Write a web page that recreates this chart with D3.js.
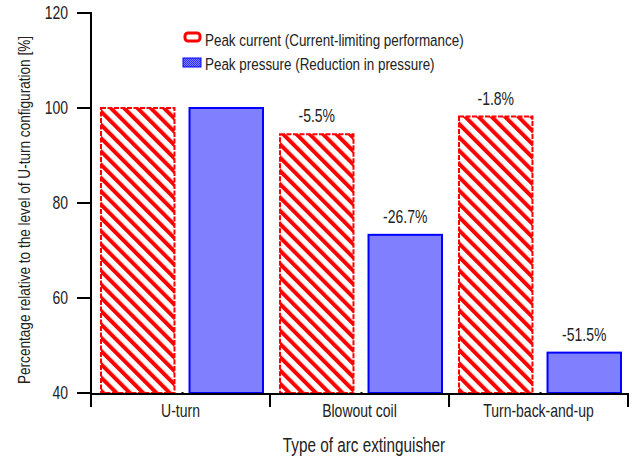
<!DOCTYPE html>
<html><head><meta charset="utf-8">
<script src="https://cdn.jsdelivr.net/npm/d3@7"></script>
<style>
html,body{margin:0;padding:0;background:#fff;}
svg text{font-family:"Liberation Sans",Arial,sans-serif;fill:#222;}
</style></head>
<body>
<svg id="chart" width="632" height="461"></svg>
<script>
const categories = ["U-turn", "Blowout coil", "Turn-back-and-up"];
const seriesNames = ["Peak current (Current-limiting performance)", "Peak pressure (Reduction in pressure)"];
const peakCurrent = [100, 94.5, 98.2];
const peakPressure = [100, 73.3, 48.5];
const currentLabels = ["", "-5.5%", "-1.8%"];
const pressureLabels = ["", "-26.7%", "-51.5%"];
const yTicks = [40, 60, 80, 100, 120];
const yTitle = "Percentage relative to the level of U-turn configuration [%]";
const xTitle = "Type of arc extinguisher";

const SX = 0.8; // condensed look
const svg = d3.select("#chart");
function txt(parent, x, y, str, size, anchor, rot, sx) {
  const g = parent.append("g").attr("transform", `translate(${x},${y}) rotate(${rot||0}) scale(${sx||SX},1)`);
  g.append("text").attr("text-anchor", anchor || "start").attr("font-size", size).text(str);
  return g;
}

const defs = svg.append("defs");
const hatch = defs.append("pattern").attr("id","hatch").attr("patternUnits","userSpaceOnUse")
  .attr("width",9.4).attr("height",9.4).attr("patternTransform","rotate(-45)");
hatch.append("rect").attr("width",9.4).attr("height",9.4).attr("fill","#fff");
hatch.append("rect").attr("width",4).attr("height",9.4).attr("fill","#ff0000");
const dots = defs.append("pattern").attr("id","dots").attr("patternUnits","userSpaceOnUse")
  .attr("width",2).attr("height",2);
dots.append("rect").attr("width",2).attr("height",2).attr("fill","#8080ff");
dots.append("rect").attr("width",1).attr("height",1).attr("fill","#3030ff");
dots.append("rect").attr("x",1).attr("y",1).attr("width",1).attr("height",1).attr("fill","#3030ff");

const x = d3.scaleBand().domain(categories).range([91, 628]).padding(0);
const xs = d3.scaleBand().domain(["c","p"]).range([10, 172]).paddingInner(0.17).paddingOuter(0);
const y = d3.scaleLinear().domain([40, 120]).range([393, 13]);

const data = categories.map((c,i)=>({c, cur:peakCurrent[i], pre:peakPressure[i], lc:currentLabels[i], lp:pressureLabels[i]}));
const g = svg.append("g");
g.selectAll("rect.cur").data(data).join("rect").attr("class","cur")
  .attr("x",d=>x(d.c)+xs("c")).attr("width",xs.bandwidth())
  .attr("y",d=>y(d.cur)).attr("height",d=>y(40)-y(d.cur))
  .attr("fill","url(#hatch)").attr("stroke","#ff0000").attr("stroke-width",2)
  .attr("stroke-dasharray","5,1.5");
g.selectAll("rect.pre").data(data).join("rect").attr("class","pre")
  .attr("x",d=>x(d.c)+xs("p")).attr("width",xs.bandwidth())
  .attr("y",d=>y(d.pre)).attr("height",d=>y(40)-y(d.pre))
  .attr("fill","#8080ff").attr("stroke","#0000ff").attr("stroke-width",2);

// value labels
data.forEach(d=>{
  if (d.lc) txt(g, x(d.c)+xs("c")+xs.bandwidth()/2, y(d.cur)-12, d.lc, 17.5, "middle");
  if (d.lp) txt(g, x(d.c)+xs("p")+xs.bandwidth()/2, y(d.pre)-12, d.lp, 17.5, "middle");
});

// y axis
svg.selectAll("line.yt").data(yTicks).join("line").attr("class","yt")
  .attr("x1",77).attr("x2",91).attr("y1",d=>y(d)).attr("y2",d=>y(d))
  .attr("stroke","#000").attr("stroke-width",2);
yTicks.forEach(v=>txt(svg, 68, y(v)+6, String(v), 17.5, "end"));
svg.append("line").attr("x1",91).attr("x2",91).attr("y1",y(120)-1).attr("y2",407)
  .attr("stroke","#000").attr("stroke-width",2);

// x axis
svg.append("line").attr("x1",90).attr("x2",629).attr("y1",y(40)+1).attr("y2",y(40)+1)
  .attr("stroke","#000").attr("stroke-width",2);
const bounds = categories.map(c=>x(c)).concat([x.range()[1]]);
svg.selectAll("line.ct").data(bounds).join("line").attr("class","ct")
  .attr("x1",d=>d).attr("x2",d=>d).attr("y1",y(40)).attr("y2",407)
  .attr("stroke","#000").attr("stroke-width",2);
svg.selectAll("line.mt").data(categories).join("line").attr("class","mt")
  .attr("x1",d=>x(d)+x.bandwidth()/2+2).attr("x2",d=>x(d)+x.bandwidth()/2+2)
  .attr("y1",y(40)-1).attr("y2",y(40)+2).attr("stroke","#000").attr("stroke-width",2);
categories.forEach(c=>txt(svg, x(c)+x.bandwidth()/2, 417, c, 17.5, "middle"));

txt(svg, 364, 452, xTitle, 19.5, "middle", 0, 0.785);
txt(svg, 30, 210, yTitle, 17, "middle", -90);

// legend
const lg = svg.append("g");
lg.append("rect").attr("x",185).attr("y",33).attr("width",15).attr("height",8).attr("rx",3)
  .attr("fill","#fff").attr("stroke","#ff0000").attr("stroke-width",3);
lg.append("rect").attr("x",183).attr("y",58).attr("width",18).attr("height",9)
  .attr("fill","url(#dots)").attr("stroke","#0000ff").attr("stroke-width",1);
txt(lg, 205, 46, seriesNames[0], 17, "start", 0, 0.79);
txt(lg, 205, 70, seriesNames[1], 17, "start", 0, 0.79);
</script>
</body></html>
